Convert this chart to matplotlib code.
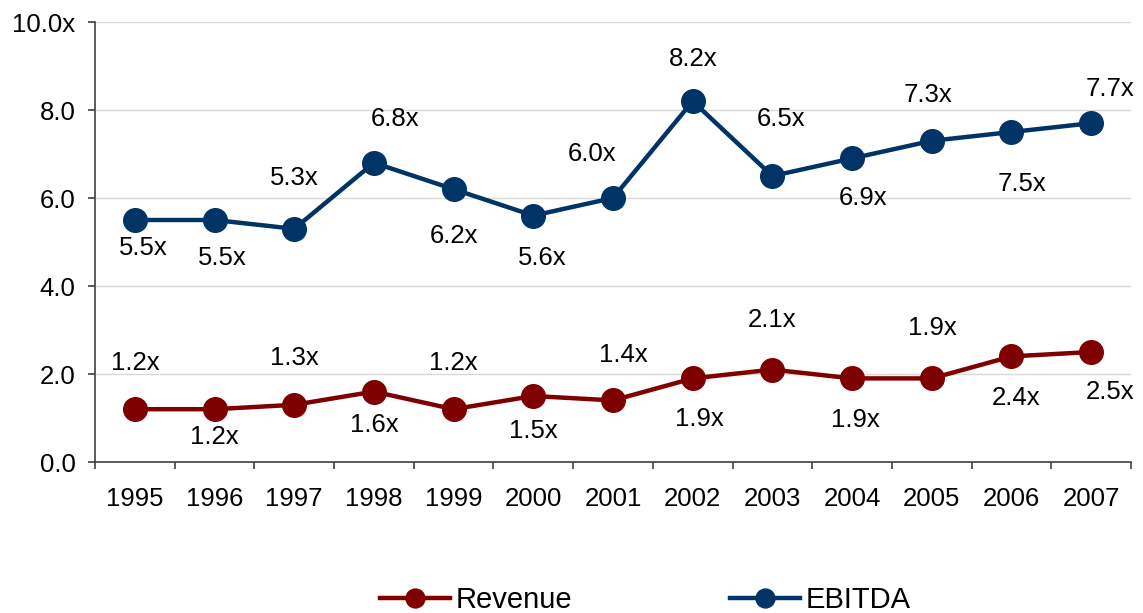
import matplotlib
matplotlib.use("Agg")
import matplotlib.pyplot as plt
from matplotlib.ticker import FixedLocator

plt.rcParams['font.family'] = ['Liberation Sans', 'DejaVu Sans']

years = ['1995', '1996', '1997', '1998', '1999', '2000', '2001',
         '2002', '2003', '2004', '2005', '2006', '2007']
revenue = [1.2, 1.2, 1.3, 1.6, 1.2, 1.5, 1.4, 1.9, 2.1, 1.9, 1.9, 2.4, 2.5]
ebitda = [5.5, 5.5, 5.3, 6.8, 6.2, 5.6, 6.0, 8.2, 6.5, 6.9, 7.3, 7.5, 7.7]
yticks = [0, 2, 4, 6, 8, 10]
ytick_labels = ['0.0', '2.0', '4.0', '6.0', '8.0', '10.0x']

# label placement offsets in pixels (dx right, dy down)
rev_off = [(0, -46), (0, 28), (0, -47), (0, 33), (0, -46), (0, 35), (10, -45),
           (7, 41), (0, -50), (3, 42), (1, -50), (5, 42), (19, 40)]
ebi_off = [(8, 28), (8, 38), (0, -51), (21, -44), (0, 47), (9, 42), (-21, -44),
           (0, -42), (9, -57), (11, 40), (-4, -46), (11, 52), (19, -34)]

RED = '#7F0000'
NAVY = '#003366'
FS = 18.5

fig = plt.figure(figsize=(11.43, 6.13), dpi=100)
ax = fig.add_axes([95 / 1143, 1 - 462 / 613, (1131 - 95) / 1143, (462 - 22) / 613])

x = list(range(len(years)))
ax.plot(x, revenue, color=RED, lw=3.2, marker='o', ms=17, label='Revenue', zorder=3)
ax.plot(x, ebitda, color=NAVY, lw=3.2, marker='o', ms=17, label='EBITDA', zorder=3)

for xi, v, (dx, dy) in zip(x, revenue, rev_off):
    ax.annotate(f'{v:.1f}x', (xi, v), xytext=(dx, -dy), textcoords='offset pixels',
                ha='center', va='center', fontsize=FS, color='black')
for xi, v, (dx, dy) in zip(x, ebitda, ebi_off):
    ax.annotate(f'{v:.1f}x', (xi, v), xytext=(dx, -dy), textcoords='offset pixels',
                ha='center', va='center', fontsize=FS, color='black')

ax.set_xlim(-0.5, len(years) - 0.5)
ax.set_ylim(0, 10)
ax.set_yticks(yticks)
ax.set_yticklabels(ytick_labels, fontsize=FS)
ax.xaxis.set_major_locator(FixedLocator([i - 0.5 for i in range(len(years) + 1)]))
ax.xaxis.set_minor_locator(FixedLocator(x))
ax.set_xticklabels([], minor=False)
ax.set_xticklabels(years, minor=True, fontsize=FS)
ax.tick_params(axis='x', which='major', length=5, width=1.2, color='#404040', direction='out')
ax.tick_params(axis='x', which='minor', length=0, pad=18)
ax.tick_params(axis='y', length=5, width=1.2, color='#404040', direction='out', pad=9)

ax.grid(axis='y', color='#D9D9D9', lw=1)
ax.set_axisbelow(True)
for s in ['top', 'right']:
    ax.spines[s].set_visible(False)
for s in ['left', 'bottom']:
    ax.spines[s].set_color('#404040')
    ax.spines[s].set_linewidth(1.2)

fig.legend(loc='center', bbox_to_anchor=(645 / 1143, 1 - 600 / 613), ncol=2,
           frameon=False, fontsize=21, handlelength=2.4, handletextpad=0.2,
           columnspacing=5.4, markerscale=0.8, borderpad=0)

fig.savefig('out.png', dpi=100)
